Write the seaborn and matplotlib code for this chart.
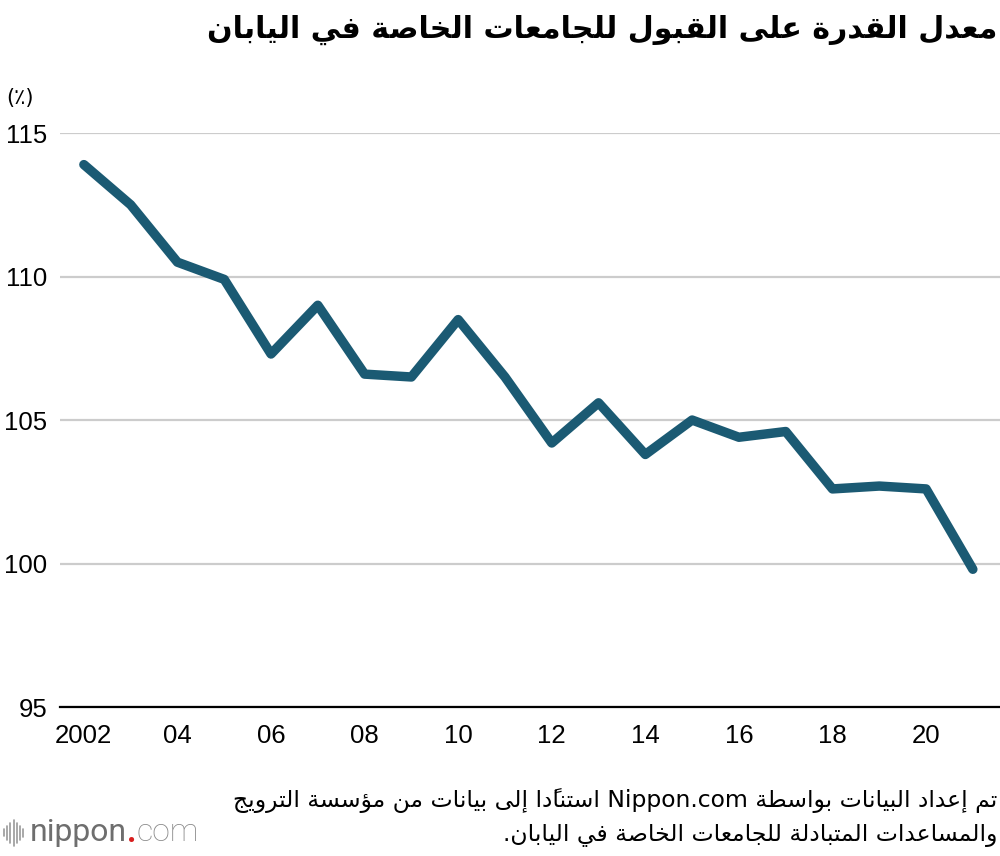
import matplotlib
matplotlib.use('Agg')
import matplotlib.pyplot as plt
from matplotlib.lines import Line2D
import seaborn as sns
import pandas as pd

# data
years = list(range(2002, 2022))
rates = [113.9, 112.5, 110.5, 109.9, 107.3, 109.0, 106.6, 106.5, 108.5, 106.5,
         104.2, 105.6, 103.8, 105.0, 104.4, 104.6, 102.6, 102.7, 102.6, 99.8]
y_ticks = [95, 100, 105, 110, 115]
x_labels = ['2002', '', '04', '', '06', '', '08', '', '10', '', '12', '', '14', '',
            '16', '', '18', '', '20', '']

title = 'معدل القدرة على القبول للجامعات الخاصة في اليابان'
unit = '(٪)'
source_1 = 'تم إعداد البيانات بواسطة Nippon.com استنادًا إلى بيانات من مؤسسة الترويج'
source_2 = 'والمساعدات المتبادلة للجامعات الخاصة في اليابان.'

LINE_COLOR = '#1b5a73'

# --- minimal arabic shaping (matplotlib has no complex text layout) ---
FORMS = {
    'ا': ('\uFE8D', '\uFE8E', None, None), 'أ': ('\uFE83', '\uFE84', None, None),
    'إ': ('\uFE87', '\uFE88', None, None), 'آ': ('\uFE81', '\uFE82', None, None),
    'ؤ': ('\uFE85', '\uFE86', None, None), 'ئ': ('\uFE89', '\uFE8A', '\uFE8B', '\uFE8C'),
    'ب': ('\uFE8F', '\uFE90', '\uFE91', '\uFE92'), 'ة': ('\uFE93', '\uFE94', None, None),
    'ت': ('\uFE95', '\uFE96', '\uFE97', '\uFE98'), 'ث': ('\uFE99', '\uFE9A', '\uFE9B', '\uFE9C'),
    'ج': ('\uFE9D', '\uFE9E', '\uFE9F', '\uFEA0'), 'ح': ('\uFEA1', '\uFEA2', '\uFEA3', '\uFEA4'),
    'خ': ('\uFEA5', '\uFEA6', '\uFEA7', '\uFEA8'), 'د': ('\uFEA9', '\uFEAA', None, None),
    'ذ': ('\uFEAB', '\uFEAC', None, None), 'ر': ('\uFEAD', '\uFEAE', None, None),
    'ز': ('\uFEAF', '\uFEB0', None, None), 'س': ('\uFEB1', '\uFEB2', '\uFEB3', '\uFEB4'),
    'ش': ('\uFEB5', '\uFEB6', '\uFEB7', '\uFEB8'), 'ص': ('\uFEB9', '\uFEBA', '\uFEBB', '\uFEBC'),
    'ض': ('\uFEBD', '\uFEBE', '\uFEBF', '\uFEC0'), 'ط': ('\uFEC1', '\uFEC2', '\uFEC3', '\uFEC4'),
    'ظ': ('\uFEC5', '\uFEC6', '\uFEC7', '\uFEC8'), 'ع': ('\uFEC9', '\uFECA', '\uFECB', '\uFECC'),
    'غ': ('\uFECD', '\uFECE', '\uFECF', '\uFED0'), 'ف': ('\uFED1', '\uFED2', '\uFED3', '\uFED4'),
    'ق': ('\uFED5', '\uFED6', '\uFED7', '\uFED8'), 'ك': ('\uFED9', '\uFEDA', '\uFEDB', '\uFEDC'),
    'ل': ('\uFEDD', '\uFEDE', '\uFEDF', '\uFEE0'), 'م': ('\uFEE1', '\uFEE2', '\uFEE3', '\uFEE4'),
    'ن': ('\uFEE5', '\uFEE6', '\uFEE7', '\uFEE8'), 'ه': ('\uFEE9', '\uFEEA', '\uFEEB', '\uFEEC'),
    'و': ('\uFEED', '\uFEEE', None, None), 'ى': ('\uFEEF', '\uFEF0', None, None),
    'ي': ('\uFEF1', '\uFEF2', '\uFEF3', '\uFEF4'),
}
LAM_ALEF = {'ا': '\uFEFB\uFEFC', 'أ': '\uFEF7\uFEF8', 'إ': '\uFEF9\uFEFA', 'آ': '\uFEF5\uFEF6'}
MARKS = set('\u064B\u064C\u064D\u064E\u064F\u0650\u0651\u0652')


def shape(text):
    toks = []
    i = 0
    while i < len(text):
        if text[i] == 'ل' and i + 1 < len(text) and text[i + 1] in LAM_ALEF:
            toks.append(('LA', text[i + 1]))
            i += 2
        else:
            toks.append((text[i], None))
            i += 1

    def joins_next(t):
        return t[0] in FORMS and FORMS[t[0]][2] is not None

    def is_ar(t):
        return t[0] == 'LA' or t[0] in FORMS

    out = []
    for k, t in enumerate(toks):
        c = t[0]
        if c in MARKS or not is_ar(t):
            out.append(c)
            continue
        p = k - 1
        while p >= 0 and toks[p][0] in MARKS:
            p -= 1
        n = k + 1
        while n < len(toks) and toks[n][0] in MARKS:
            n += 1
        prev_j = p >= 0 and joins_next(toks[p])
        if c == 'LA':
            out.append(LAM_ALEF[t[1]][1 if prev_j else 0])
            continue
        iso, fin, ini, med = FORMS[c]
        next_j = ini is not None and n < len(toks) and is_ar(toks[n])
        if prev_j and next_j:
            out.append(med)
        elif prev_j:
            out.append(fin)
        elif next_j:
            out.append(ini)
        else:
            out.append(iso)
    return ''.join(out)


def rtl(text):
    words = shape(text).split(' ')
    vis = []
    for w in words:
        if any('\u0600' <= ch <= '\u06FF' or '\uFE70' <= ch <= '\uFEFF' for ch in w):
            clusters = []
            for ch in w:
                if ch in MARKS and clusters:
                    clusters[-1] += ch
                else:
                    clusters.append(ch)
            vis.append(''.join(reversed(clusters)))
        else:
            vis.append(w)
    return ' '.join(reversed(vis))


df = pd.DataFrame({'year': years, 'rate': rates})

sns.set_style('white')
plt.rcParams['font.family'] = ['Liberation Sans', 'DejaVu Sans']

fig = plt.figure(figsize=(10, 8.56), dpi=100)
ax = fig.add_axes([0.06, 0.174, 0.94, 0.6706])

sns.lineplot(data=df, x='year', y='rate', ax=ax, color=LINE_COLOR, linewidth=6.8,
             solid_capstyle='round', solid_joinstyle='round', zorder=5)

ax.set_xlim(2001.49, 2021.58)
ax.set_ylim(95, 115)
ax.set_yticks(y_ticks)
ax.set_yticklabels([str(v) for v in y_ticks])
ax.set_xticks(years)
ax.set_xticklabels(x_labels)
ax.set_xlabel('')
ax.set_ylabel('')

ax.yaxis.grid(True, color='#cccccc', linewidth=1.6)
ax.xaxis.grid(False)
for s in ['top', 'right', 'left']:
    ax.spines[s].set_visible(False)
ax.spines['bottom'].set_color('black')
ax.spines['bottom'].set_linewidth(1.6)
ax.spines['bottom'].set_zorder(6)

ax.tick_params(axis='y', length=0, pad=9, labelsize=18.5, labelcolor='black')
ax.tick_params(axis='x', direction='in', length=12, width=1, color='#cccccc',
               pad=12, labelsize=18.5, labelcolor='black')

# title, unit, source
fig.text(0.997, 0.965, rtl(title), ha='right', va='center', fontsize=21.6,
         fontweight='bold', family=['DejaVu Sans'], color='black')
fig.text(0.006, 0.886, unit, ha='left', va='center', fontsize=15,
         family=['DejaVu Sans'], color='black')
fig.text(0.997, 0.065, rtl(source_1), ha='right', va='center', fontsize=16.9,
         family=['DejaVu Sans'], color='black')
fig.text(0.997, 0.024, rtl(source_2), ha='right', va='center', fontsize=16.9,
         family=['DejaVu Sans'], color='black')

# nippon.com logo
bar_h = [0.008, 0.016, 0.024, 0.030, 0.024, 0.016, 0.010]
for k, h in enumerate(bar_h):
    x = 0.004 + k * 0.0032
    fig.add_artist(Line2D([x, x], [0.027 - h / 2, 0.027 + h / 2], color='#9a9a9a',
                          linewidth=1.2, transform=fig.transFigure))
t1 = fig.text(0.030, 0.027, 'nippon', ha='left', va='center', fontsize=23,
              color='#6e6e6e', family=['Roboto'])
fig.canvas.draw()
r = fig.canvas.get_renderer()
x1 = t1.get_window_extent(r).x1 / fig.bbox.width
t2 = fig.text(x1, 0.027, '.', ha='left', va='center', fontsize=23,
              color='#d81e1e', family=['Roboto'], fontweight='bold')
x2 = t2.get_window_extent(r).x1 / fig.bbox.width
fig.text(x2, 0.027, 'com', ha='left', va='center', fontsize=23,
         color='#8a8a8a', family=['Roboto'], fontweight='light')

fig.savefig('out.png', dpi=100)
